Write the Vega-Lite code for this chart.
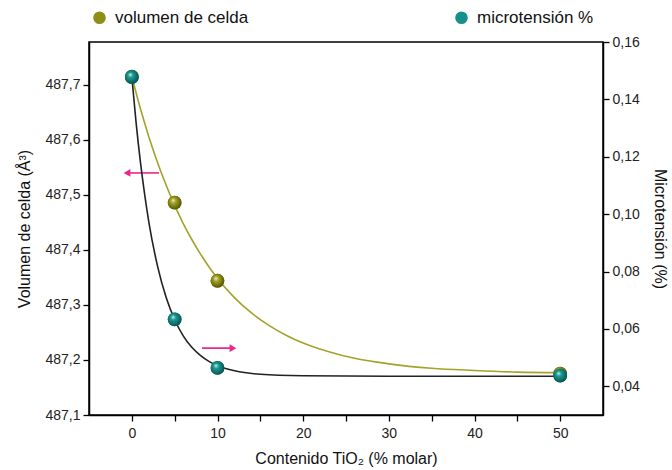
{
  "$schema": "https://vega.github.io/schema/vega-lite/v6.json",
  "width": 514,
  "height": 373,
  "autosize": {"type": "none"},
  "padding": {"left": 89, "top": 42, "right": 69, "bottom": 55},
  "background": "white",
  "datasets": {
    "puntos": [
      {"tio2": 0, "vol": 487.715, "micro": 0.1478},
      {"tio2": 5, "vol": 487.486, "micro": 0.0633},
      {"tio2": 10, "vol": 487.344, "micro": 0.0464},
      {"tio2": 50, "vol": 487.175, "micro": 0.0437}
    ],
    "ajuste_vol": [
      {"tio2": 0, "vol": 487.715}, {"tio2": 1, "vol": 487.657}, {"tio2": 2, "vol": 487.605},
      {"tio2": 3, "vol": 487.559}, {"tio2": 4, "vol": 487.518}, {"tio2": 5, "vol": 487.481},
      {"tio2": 6, "vol": 487.448}, {"tio2": 7, "vol": 487.419}, {"tio2": 8, "vol": 487.393},
      {"tio2": 10, "vol": 487.348}, {"tio2": 12, "vol": 487.313}, {"tio2": 14, "vol": 487.285},
      {"tio2": 16, "vol": 487.263}, {"tio2": 18, "vol": 487.245}, {"tio2": 20, "vol": 487.231},
      {"tio2": 23, "vol": 487.215}, {"tio2": 26, "vol": 487.203}, {"tio2": 30, "vol": 487.193},
      {"tio2": 35, "vol": 487.185}, {"tio2": 40, "vol": 487.181}, {"tio2": 45, "vol": 487.178},
      {"tio2": 50, "vol": 487.177}
    ],
    "ajuste_micro": [
      {"tio2": 0, "micro": 0.1478}, {"tio2": 0.5, "micro": 0.1318}, {"tio2": 1, "micro": 0.1182},
      {"tio2": 1.5, "micro": 0.1068}, {"tio2": 2, "micro": 0.0970}, {"tio2": 3, "micro": 0.0819},
      {"tio2": 4, "micro": 0.0710}, {"tio2": 5, "micro": 0.0632}, {"tio2": 6, "micro": 0.0576},
      {"tio2": 7, "micro": 0.0536}, {"tio2": 8, "micro": 0.0508}, {"tio2": 9, "micro": 0.0487},
      {"tio2": 10, "micro": 0.0472}, {"tio2": 12, "micro": 0.0454}, {"tio2": 15, "micro": 0.0442},
      {"tio2": 20, "micro": 0.0437}, {"tio2": 30, "micro": 0.0435}, {"tio2": 40, "micro": 0.0435},
      {"tio2": 50, "micro": 0.0435}
    ],
    "flecha_vol": [{"desde": 3.17, "punta": -0.56, "vol": 487.54}],
    "flecha_micro": [{"desde": 8.19, "punta": 11.81, "micro": 0.0533}]
  },
  "layer": [
    {
      "layer": [
        {
          "data": {"name": "ajuste_vol"},
          "mark": {"type": "line", "interpolate": "monotone", "color": "#a3a32a", "strokeWidth": 1.6},
          "encoding": {
            "x": {"field": "tio2", "type": "quantitative", "scale": {"domain": [-5, 55], "nice": false, "zero": false},
              "axis": {"title": "Contenido TiO₂ (% molar)", "values": [0, 5, 10, 15, 20, 25, 30, 35, 40, 45, 50],
                "labelExpr": "datum.value % 10 == 0 ? format(datum.value, 'd') : ''", "grid": false}},
            "y": {"field": "vol", "type": "quantitative", "scale": {"domain": [487.1, 487.778], "nice": false, "zero": false},
              "axis": {"orient": "left", "title": "Volumen de celda (Å³)", "grid": false,
                "values": [487.1, 487.15, 487.2, 487.25, 487.3, 487.35, 487.4, 487.45, 487.5, 487.55, 487.6, 487.65, 487.7, 487.75],
                "labelExpr": "round(datum.value * 100) % 10 == 0 ? replace(format(datum.value, '.1f'), '.', ',') : ''"}}
          }
        },
        {
          "data": {"name": "flecha_vol"},
          "mark": {"type": "rule", "color": "#e8288c", "strokeWidth": 1.6},
          "encoding": {
            "x": {"field": "desde", "type": "quantitative"},
            "x2": {"field": "punta"},
            "y": {"field": "vol", "type": "quantitative"}
          }
        },
        {
          "data": {"name": "flecha_vol"},
          "mark": {"type": "point", "shape": "triangle-left", "filled": true, "color": "#e8288c", "size": 60, "opacity": 1},
          "encoding": {
            "x": {"field": "punta", "type": "quantitative"},
            "y": {"field": "vol", "type": "quantitative"}
          }
        },
        {
          "data": {"name": "puntos"},
          "mark": {"type": "point", "filled": true, "size": 190, "opacity": 1},
          "encoding": {
            "x": {"field": "tio2", "type": "quantitative"},
            "y": {"field": "vol", "type": "quantitative"},
            "color": {"datum": "volumen de celda", "type": "nominal",
              "scale": {"domain": ["volumen de celda", "microtensión %"], "range": ["#8e8e16", "#16908b"]},
              "legend": {"title": null}}
          }
        },
        {
          "data": {"name": "puntos"},
          "mark": {"type": "point", "filled": true, "size": 190, "opacity": 1,
            "fill": {"gradient": "radial", "x1": 0.38, "y1": 0.32, "r1": 0, "x2": 0.45, "y2": 0.45, "r2": 0.6,
              "stops": [{"offset": 0, "color": "#f2f4c6"}, {"offset": 0.3, "color": "#a6a62c"}, {"offset": 1, "color": "#4c4c00"}]}},
          "encoding": {
            "x": {"field": "tio2", "type": "quantitative"},
            "y": {"field": "vol", "type": "quantitative"}
          }
        }
      ]
    },
    {
      "layer": [
        {
          "data": {"name": "ajuste_micro"},
          "mark": {"type": "line", "interpolate": "monotone", "color": "#222222", "strokeWidth": 1.6},
          "encoding": {
            "x": {"field": "tio2", "type": "quantitative"},
            "y": {"field": "micro", "type": "quantitative", "scale": {"domain": [0.03, 0.16], "nice": false, "zero": false},
              "axis": {"orient": "right", "title": "Microtensión (%)", "grid": false,
                "values": [0.04, 0.05, 0.06, 0.07, 0.08, 0.09, 0.1, 0.11, 0.12, 0.13, 0.14, 0.15, 0.16],
                "labelExpr": "round(datum.value * 100) % 2 == 0 ? replace(format(datum.value, '.2f'), '.', ',') : ''"}}
          }
        },
        {
          "data": {"name": "flecha_micro"},
          "mark": {"type": "rule", "color": "#e8288c", "strokeWidth": 1.6},
          "encoding": {
            "x": {"field": "desde", "type": "quantitative"},
            "x2": {"field": "punta"},
            "y": {"field": "micro", "type": "quantitative"}
          }
        },
        {
          "data": {"name": "flecha_micro"},
          "mark": {"type": "point", "shape": "triangle-right", "filled": true, "color": "#e8288c", "size": 60, "opacity": 1},
          "encoding": {
            "x": {"field": "punta", "type": "quantitative"},
            "y": {"field": "micro", "type": "quantitative"}
          }
        },
        {
          "data": {"name": "puntos"},
          "mark": {"type": "point", "filled": true, "size": 190, "opacity": 1},
          "encoding": {
            "x": {"field": "tio2", "type": "quantitative"},
            "y": {"field": "micro", "type": "quantitative"},
            "color": {"datum": "microtensión %", "type": "nominal"}
          }
        },
        {
          "data": {"name": "puntos"},
          "mark": {"type": "point", "filled": true, "size": 190, "opacity": 1,
            "fill": {"gradient": "radial", "x1": 0.38, "y1": 0.32, "r1": 0, "x2": 0.45, "y2": 0.45, "r2": 0.6,
              "stops": [{"offset": 0, "color": "#d2f4f0"}, {"offset": 0.3, "color": "#1e9c96"}, {"offset": 1, "color": "#074a47"}]}},
          "encoding": {
            "x": {"field": "tio2", "type": "quantitative"},
            "y": {"field": "micro", "type": "quantitative"}
          }
        }
      ]
    }
  ],
  "resolve": {"scale": {"y": "independent"}, "axis": {"y": "independent"}},
  "config": {
    "font": "Liberation Sans",
    "view": {"stroke": "#000000", "strokeWidth": 1.5},
    "axis": {
      "domainColor": "#000000", "domainWidth": 1.5,
      "tickColor": "#000000", "tickWidth": 1.3, "tickSize": 6,
      "labelFont": "Liberation Sans", "labelFontSize": 14, "labelColor": "#222222", "labelPadding": 3,
      "titleFont": "Liberation Sans", "titleFontSize": 16, "titleFontWeight": "normal", "titleColor": "#111111",
      "labelFlush": false, "labelOverlap": false
    },
    "axisX": {"titlePadding": 10, "labelPadding": 5},
    "axisLeft": {"titlePadding": 12},
    "axisRight": {"titlePadding": 12},
    "legend": {
      "orient": "none", "legendX": 2, "legendY": -33, "direction": "horizontal",
      "symbolType": "circle", "symbolSize": 160, "symbolStrokeWidth": 0,
      "labelFont": "Liberation Sans", "labelFontSize": 17, "labelColor": "#111111", "labelOffset": 7,
      "columnPadding": 204
    }
  }
}
